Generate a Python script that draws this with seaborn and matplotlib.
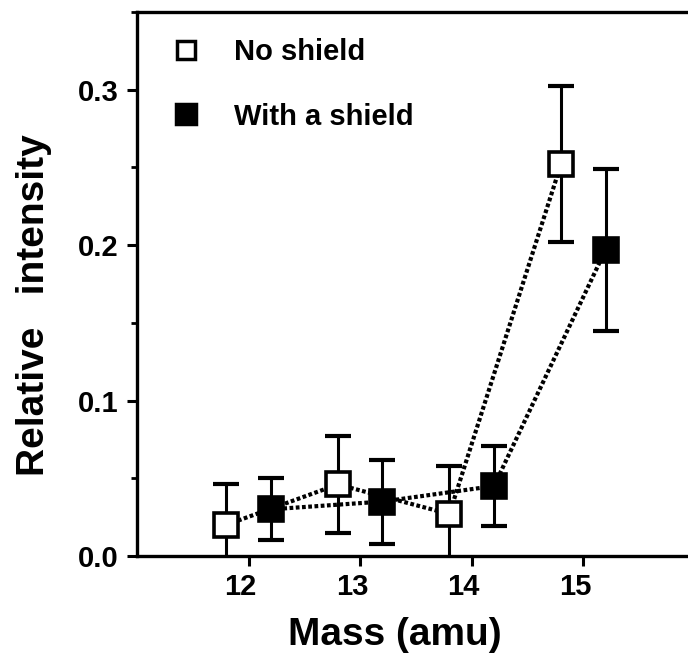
import numpy as np
import pandas as pd
import matplotlib
matplotlib.use("Agg")
import matplotlib.pyplot as plt
import matplotlib.transforms as mtransforms
from matplotlib.lines import Line2D
from matplotlib.ticker import MultipleLocator
import seaborn as sns

# ---- data ----
mass = [12, 13, 14, 15]
no_shield = [0.020, 0.046, 0.027, 0.252]
no_shield_err = [0.026, 0.031, 0.031, 0.050]
with_shield = [0.030, 0.035, 0.045, 0.197]
with_shield_err = [0.020, 0.027, 0.026, 0.052]
series_names = ["No shield", "With a shield"]
x_ticks = [12, 13, 14, 15]
y_ticks = [0.0, 0.1, 0.2, 0.3]

sns.set_theme(style="ticks")
plt.rcParams['font.family'] = ['Liberation Sans', 'DejaVu Sans']
plt.rcParams['font.weight'] = 'bold'
plt.rcParams['axes.labelweight'] = 'bold'
plt.rcParams['text.color'] = 'black'
plt.rcParams['axes.labelcolor'] = 'black'
plt.rcParams['xtick.color'] = 'black'
plt.rcParams['ytick.color'] = 'black'

fig = plt.figure(figsize=(6.88, 6.71), dpi=100)
ax = fig.add_axes([0.199, 0.1714, 0.811, 0.811])

offset = {"No shield": -0.2, "With a shield": 0.2}
df = pd.DataFrame({
    "mass": mass * 2,
    "intensity": no_shield + with_shield,
    "err": no_shield_err + with_shield_err,
    "series": [series_names[0]] * 4 + [series_names[1]] * 4,
})
df["x"] = df["mass"] + df["series"].map(offset)

face = {"No shield": "white", "With a shield": "black"}

for name in series_names:
    sub = df[df["series"] == name]
    ax.errorbar(sub["x"], sub["intensity"], yerr=sub["err"], fmt="none",
                ecolor="black", elinewidth=2.2, capsize=9.5, capthick=3,
                zorder=2)
    sns.lineplot(data=sub, x="x", y="intensity", ax=ax, color="black",
                 linestyle=(0, (0.9, 0.6)), linewidth=3.0, marker="s",
                 markersize=17, markerfacecolor=face[name],
                 markeredgecolor="black", markeredgewidth=2.6,
                 zorder=3, legend=False)

ax.set_xlim(11.0, 16.0)
ax.set_ylim(0.0, 0.35)
ax.set_xticks(x_ticks)
ax.set_xticklabels([str(v) for v in x_ticks])
ax.set_yticks(y_ticks)
ax.set_yticklabels([f"{v:.1f}" for v in y_ticks])
ax.yaxis.set_minor_locator(MultipleLocator(0.05))

ax.tick_params(axis="both", which="major", labelsize=21, width=2.2,
               length=7, direction="out", color="black", labelcolor="black")
ax.tick_params(axis="y", which="minor", width=2, length=4, direction="out")
ax.tick_params(axis="x", pad=5)
ax.tick_params(axis="y", pad=6)
shift = mtransforms.ScaledTranslation(-8 / 100, 0, fig.dpi_scale_trans)
for lab in ax.get_xticklabels():
    lab.set_fontweight("bold")
    lab.set_transform(lab.get_transform() + shift)
for lab in ax.get_yticklabels():
    lab.set_fontweight("bold")

for sp in ax.spines.values():
    sp.set_linewidth(2.4)
    sp.set_color("black")
    sp.set_visible(True)

ax.set_xlabel("Mass (amu)", fontsize=28, fontweight="bold")
ax.xaxis.set_label_coords(0.462, -0.112)
ax.set_ylabel("Relative   intensity", fontsize=28, fontweight="bold")
ax.yaxis.set_label_coords(-0.152, 0.461)

handles = [
    Line2D([], [], linestyle="none", marker="s", markersize=13,
           markerfacecolor="white", markeredgecolor="black",
           markeredgewidth=2.5),
    Line2D([], [], linestyle="none", marker="s", markersize=15,
           markerfacecolor="black", markeredgecolor="black",
           markeredgewidth=2.5),
]
leg = ax.legend(handles, series_names, loc="upper left",
                bbox_to_anchor=(0.015, 1.0), frameon=False,
                prop={"size": 21, "weight": "bold", "family": "Liberation Sans"},
                handletextpad=1.15, labelspacing=1.25, handlelength=1.0)

fig.savefig("out.png", dpi=100)
